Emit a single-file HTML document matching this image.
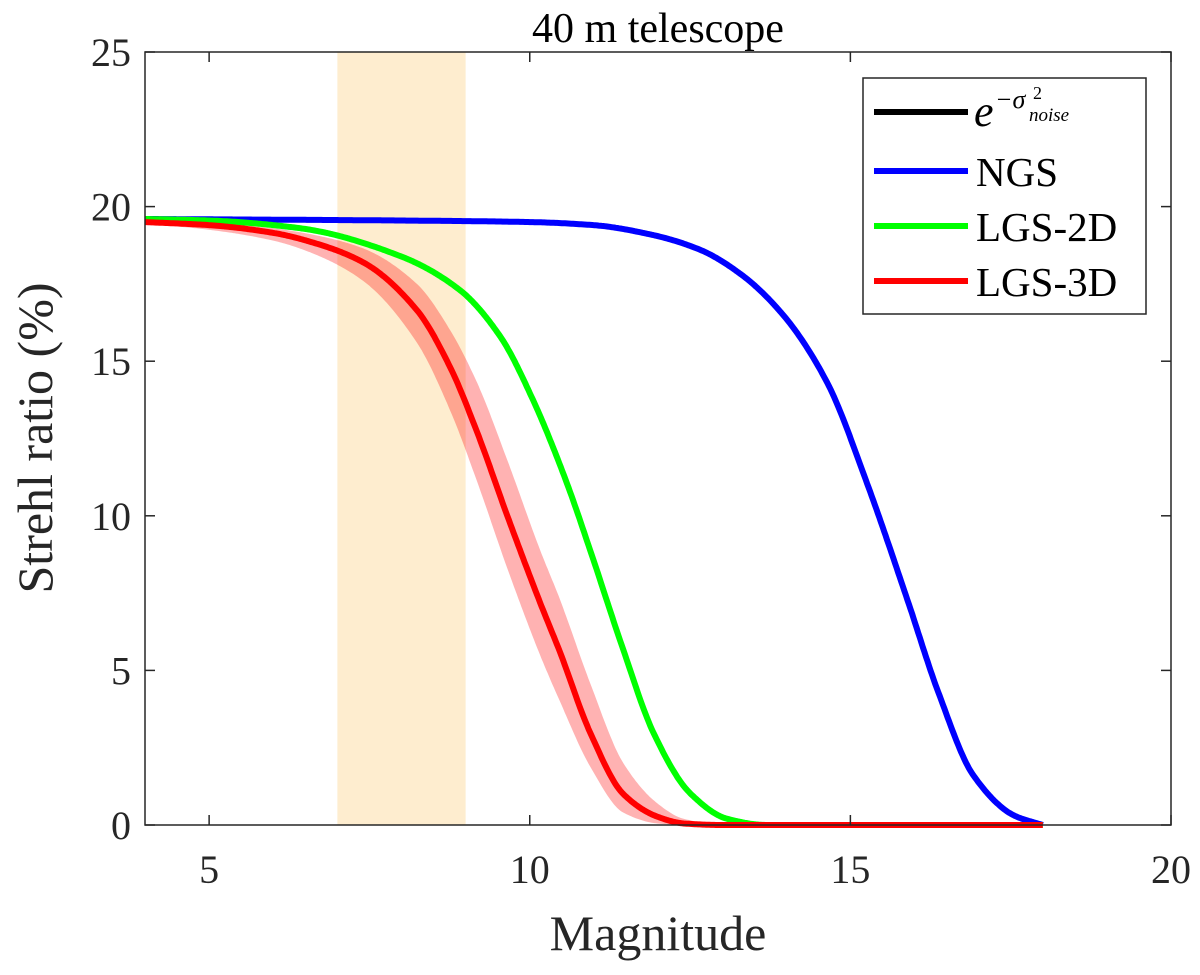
<!DOCTYPE html>
<html><head><meta charset="utf-8"><style>
html,body{margin:0;padding:0;background:#fff;}
svg text{font-family:"Liberation Serif",serif;fill:#262626;}
</style></head><body>
<svg id="chart" width="1200" height="970" xmlns="http://www.w3.org/2000/svg">
<g id="g"></g>
</svg>
<script>
const xTicks=[5,10,15,20];
const yTicks=[0,5,10,15,20,25];
const bandRange=[7,9];
const magNGS=[4,8,10,11,11.88,12.66,13.3,13.95,14.64,15.26,15.89,16.37,16.92,17.56,18];
const valNGS=[19.6,19.55,19.5,19.4,19.1,18.6,17.8,16.5,14.3,11.05,7.28,4.3,1.6,0.3,0];
const mag2D=[4,5,6.42,7.98,8.91,9.54,10.05,10.58,10.94,11.46,11.93,12.5,13.08,13.7,18];
const val2D=[19.6,19.55,19.3,18.4,17.3,15.8,13.75,11.05,8.9,5.66,2.98,1.03,0.2,0,0];
const mag3D=[4,5,6,6.6,7.4,8.24,8.76,9.18,9.65,10.16,10.47,10.94,11.46,11.99,12.4,13,18];
const val3D=[19.5,19.4,19.15,18.85,18.2,16.65,14.8,12.7,10.0,7.2,5.6,3.0,1.0,0.27,0.05,0,0];
const band3DHigh=[19.55,19.5,19.3,19.1,18.65,17.5,16.0,14.3,11.8,8.9,7.3,4.6,2.0,0.7,0.2,0.02,0];
const band3DLow=[19.45,19.25,18.9,18.5,17.6,15.6,13.4,11.1,8.3,5.5,4.0,1.9,0.4,0.05,0,0,0];

const X0=145,X1=1171,Y0=825,Y1=52;
const sx=v=>X0+(v-4)/(20-4)*(X1-X0);
const sy=v=>Y0-(v-0)/(25-0)*(Y0-Y1);
const NS="http://www.w3.org/2000/svg";
const g=document.getElementById('g');
function mk(t,a,txt){const e=document.createElementNS(NS,t);for(const k in a)e.setAttribute(k,a[k]);if(txt!==undefined)e.textContent=txt;g.appendChild(e);return e;}

// monotone cubic (Fritsch-Carlson) sampling
function mono(xs,ys){const n=xs.length,d=[],m=[];
for(let i=0;i<n-1;i++)d.push((ys[i+1]-ys[i])/(xs[i+1]-xs[i]));
m[0]=d[0];m[n-1]=d[n-2];
for(let i=1;i<n-1;i++){if(d[i-1]*d[i]<=0)m[i]=0;else{const w1=2*(xs[i+1]-xs[i])+(xs[i]-xs[i-1]),w2=(xs[i+1]-xs[i])+2*(xs[i]-xs[i-1]);m[i]=(w1+w2)/(w1/d[i-1]+w2/d[i]);}}
const out=[];
for(let i=0;i<n-1;i++){const h=xs[i+1]-xs[i],steps=Math.max(2,Math.ceil(h*40));
for(let s=0;s<steps;s++){const t=s/steps,t2=t*t,t3=t2*t;
const y=(2*t3-3*t2+1)*ys[i]+(t3-2*t2+t)*h*m[i]+(-2*t3+3*t2)*ys[i+1]+(t3-t2)*h*m[i+1];
out.push([sx(xs[i]+t*h),sy(y)]);}}
out.push([sx(xs[n-1]),sy(ys[n-1])]);return out;}
const ps=a=>a.map(p=>p[0].toFixed(1)+','+p[1].toFixed(1));

let r=mk('rect',{x:sx(bandRange[0]),y:Y1,width:sx(bandRange[1])-sx(bandRange[0]),height:Y0-Y1,fill:'#feedcf'});



const up=ps(mono(mag3D,band3DHigh)),lo=ps(mono(mag3D,band3DLow)).reverse();
let bd=mk('polygon',{points:up.concat(lo).join(' '),fill:'#ff0000','fill-opacity':0.3});



let l1=mk('polyline',{points:ps(mono(magNGS,valNGS)).join(' '),fill:'none',stroke:'#0000ff','stroke-width':6,'stroke-linejoin':'round'});


let l2=mk('polyline',{points:ps(mono(mag2D,val2D)).join(' '),fill:'none',stroke:'#00ff00','stroke-width':6,'stroke-linejoin':'round'});


let l3=mk('polyline',{points:ps(mono(mag3D,val3D)).join(' '),fill:'none',stroke:'#ff0000','stroke-width':6,'stroke-linejoin':'round'});



let ax=mk('rect',{x:X0,y:Y1,width:X1-X0,height:Y0-Y1,fill:'none',stroke:'#262626','stroke-width':1.5});


xTicks.forEach(t=>{const x=sx(t);
mk('line',{x1:x,x2:x,y1:Y0,y2:Y0-10,stroke:'#262626','stroke-width':1.5});
mk('line',{x1:x,x2:x,y1:Y1,y2:Y1+10,stroke:'#262626','stroke-width':1.5});
const tl=mk('text',{x:x,y:Y0+58,'text-anchor':'middle','font-size':40},t);

});
yTicks.forEach(t=>{const y=sy(t);
mk('line',{x1:X0,x2:X0+10,y1:y,y2:y,stroke:'#262626','stroke-width':1.5});
mk('line',{x1:X1,x2:X1-10,y1:y,y2:y,stroke:'#262626','stroke-width':1.5});
const tl=mk('text',{x:X0-14,y:y+14,'text-anchor':'end','font-size':40},t);

});
</script>
<svg width="1200" height="970" style="position:absolute;left:0;top:0" xmlns="http://www.w3.org/2000/svg">
<text x="658" y="42" text-anchor="middle" font-size="42" style="fill:#000">40 m telescope</text>
<text x="658" y="950" text-anchor="middle" font-size="50">Magnitude</text>
<text transform="translate(52,438) rotate(-90)" text-anchor="middle" font-size="50">Strehl ratio (%)</text>
<g>
<rect x="863" y="78" width="283" height="236" fill="#fff" stroke="#262626" stroke-width="1.5"/>
<line x1="874" y1="112" x2="968" y2="112" stroke="#000" stroke-width="6"/>
<text x="974" y="126" font-size="44" font-style="italic" style="fill:#000">e</text>
<text x="995" y="108" font-size="26" font-style="italic" style="fill:#000">−σ</text>
<text x="1033" y="99" font-size="18" style="fill:#000">2</text>
<text x="1029" y="121" font-size="19" font-style="italic" style="fill:#000">noise</text>
<line x1="874" y1="171" x2="968" y2="171" stroke="#0000ff" stroke-width="6"/>
<text x="976" y="186" font-size="41" style="fill:#000">NGS</text>
<line x1="874" y1="226" x2="968" y2="226" stroke="#00ff00" stroke-width="6"/>
<text x="976" y="241" font-size="41" style="fill:#000">LGS-2D</text>
<line x1="874" y1="281" x2="968" y2="281" stroke="#ff0000" stroke-width="6"/>
<text x="976" y="296" font-size="41" style="fill:#000">LGS-3D</text>
</g>
</svg>
</body></html>
